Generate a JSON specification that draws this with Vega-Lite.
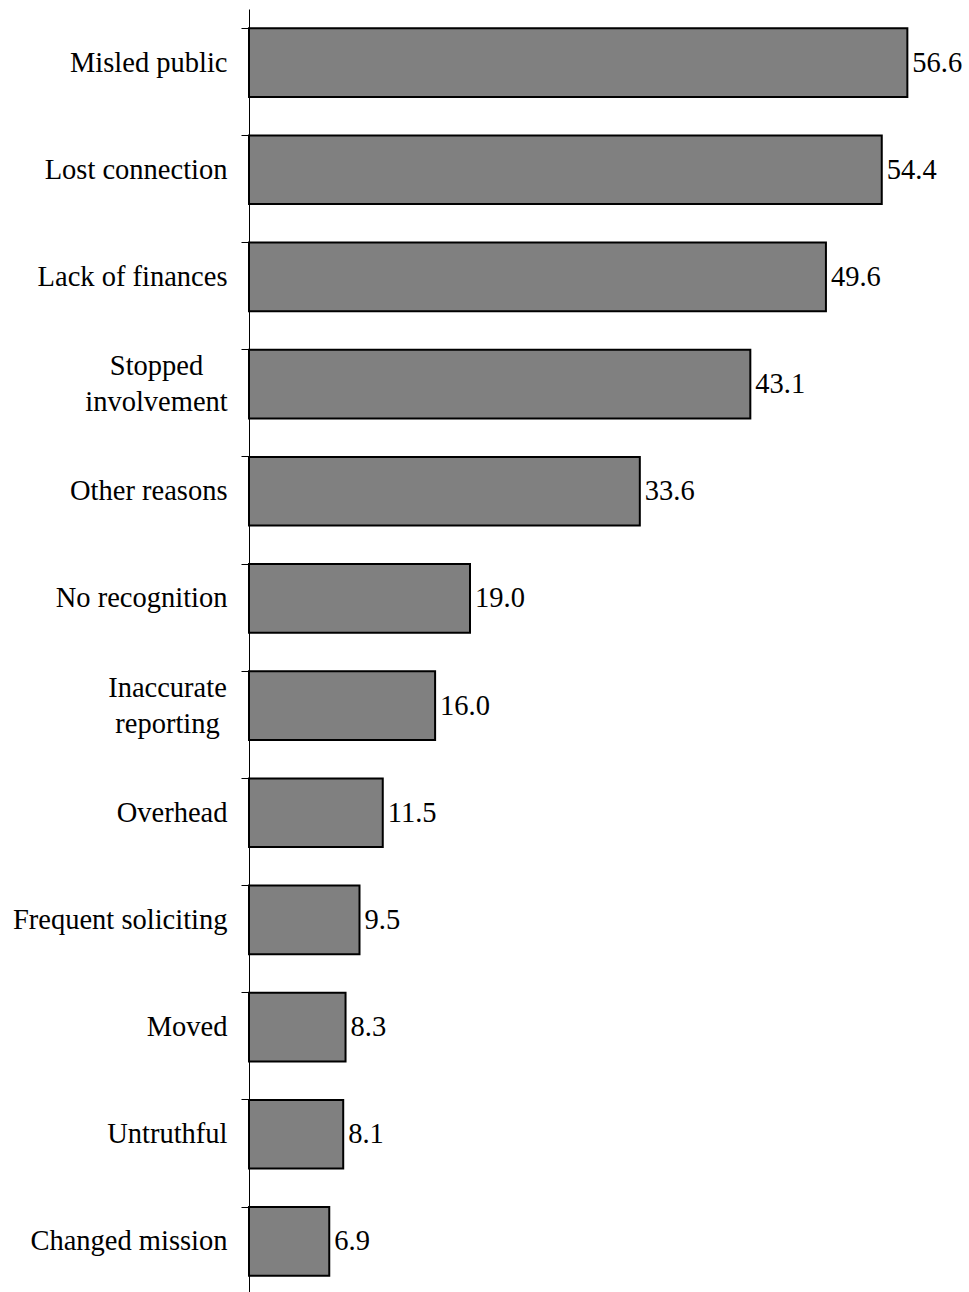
{
  "$schema": "https://vega.github.io/schema/vega-lite/v6.json",
  "autosize": "none",
  "padding": {"left": 249, "top": 9, "right": 0, "bottom": 0},
  "width": 720,
  "height": 1286,
  "background": "white",
  "data": {
    "values": [
      {"reason": "Misled public", "pct": 56.6},
      {"reason": "Lost connection", "pct": 54.4},
      {"reason": "Lack of finances", "pct": 49.6},
      {"reason": "Stopped|involvement", "pct": 43.1},
      {"reason": "Other reasons", "pct": 33.6},
      {"reason": "No recognition", "pct": 19.0},
      {"reason": "Inaccurate|reporting", "pct": 16.0},
      {"reason": "Overhead", "pct": 11.5},
      {"reason": "Frequent soliciting", "pct": 9.5},
      {"reason": "Moved", "pct": 8.3},
      {"reason": "Untruthful", "pct": 8.1},
      {"reason": "Changed mission", "pct": 6.9}
    ]
  },
  "encoding": {
    "y": {
      "field": "reason",
      "type": "nominal",
      "sort": null,
      "scale": {"paddingInner": 0.36, "paddingOuter": 0.18},
      "axis": {
        "title": null,
        "bandPosition": 0,
        "labelExpr": "split(datum.label, '|')",
        "labelFont": "Liberation Serif",
        "labelFontSize": 28.5,
        "labelColor": "black",
        "labelLineHeight": 36,
        "labelPadding": {"condition": [
          {"test": "indexof(datum.value, 'Stopped') >= 0", "value": 85},
          {"test": "indexof(datum.value, 'Inaccurate') >= 0", "value": 74}
        ], "value": 14},
        "labelAlign": {"condition": {"test": "indexof(datum.value, '|') >= 0", "value": "center"}, "value": "right"},
        "labelOffset": {"condition": {"test": "indexof(datum.value, '|') >= 0", "value": -18}, "value": 0},
        "labelLimit": 400,
        "tickSize": 8,
        "tickColor": "black",
        "tickWidth": 1,
        "domainColor": "black",
        "domainWidth": 1,
        "grid": false
      }
    },
    "x": {
      "field": "pct",
      "type": "quantitative",
      "scale": {"domain": [0, 61.9], "nice": false},
      "axis": null
    }
  },
  "layer": [
    {
      "mark": {"type": "bar", "color": "#808080", "stroke": "black", "strokeWidth": 2}
    },
    {
      "mark": {"type": "text", "align": "left", "baseline": "middle", "dx": 5, "font": "Liberation Serif", "fontSize": 28.5, "color": "black"},
      "encoding": {"text": {"field": "pct", "type": "quantitative", "format": ".1f"}}
    }
  ],
  "config": {"view": {"stroke": null}}
}
